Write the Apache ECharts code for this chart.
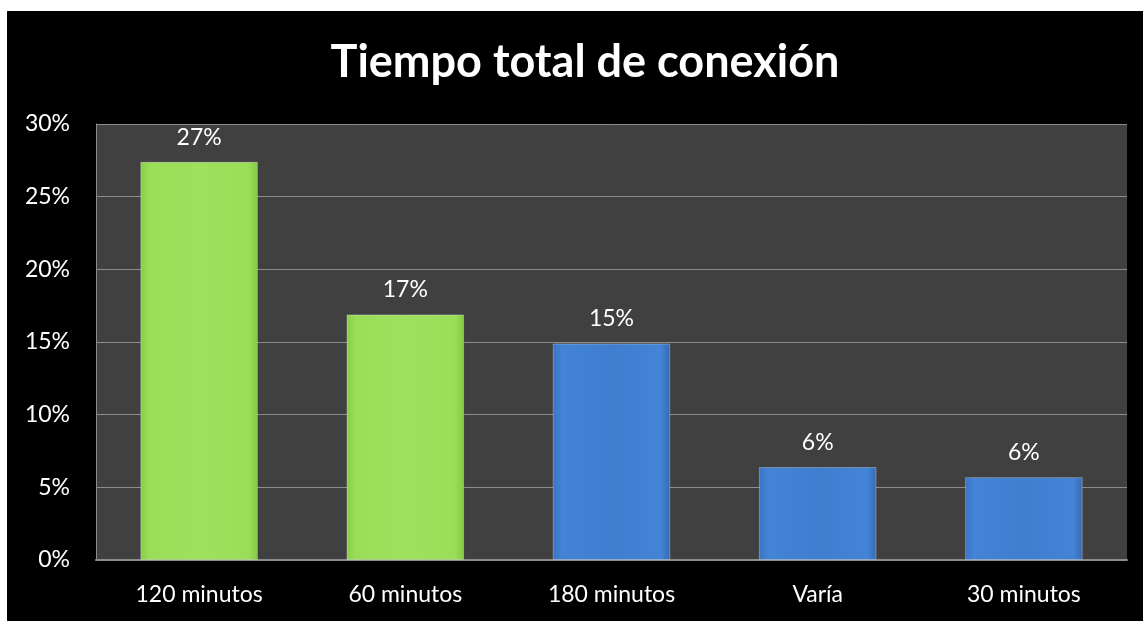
<!DOCTYPE html>
<html>
<head>
<meta charset="utf-8">
<title>Tiempo total de conexión</title>
<script src="https://cdn.jsdelivr.net/npm/echarts@6/dist/echarts.min.js"></script>
<style>
  html, body { margin: 0; padding: 0; background: #ffffff; }
  #chart { position: absolute; left: 7px; top: 11px; width: 1136px; height: 610px; }
</style>
</head>
<body>
<div id="chart"></div>
<script>
  const categories = ["120 minutos", "60 minutos", "180 minutos", "Varía", "30 minutos"];
  const shares = [27.4, 16.9, 14.9, 6.4, 5.7];
  const yTicks = [0, 5, 10, 15, 20, 25, 30];

  const font = "Lato, 'Open Sans', sans-serif";

  const green = new echarts.graphic.LinearGradient(0, 0, 1, 0, [
    { offset: 0, color: "#86cf45" },
    { offset: 0.08, color: "#9ade58" },
    { offset: 0.5, color: "#9fe05c" },
    { offset: 0.92, color: "#9ade58" },
    { offset: 1, color: "#82c942" }
  ]);
  const blue = new echarts.graphic.LinearGradient(0, 0, 1, 0, [
    { offset: 0, color: "#3a74c4" },
    { offset: 0.08, color: "#4384d6" },
    { offset: 0.5, color: "#3f7dcf" },
    { offset: 0.92, color: "#4384d6" },
    { offset: 1, color: "#3569b4" }
  ]);

  const chart = echarts.init(document.getElementById("chart"), null, { renderer: "canvas" });

  chart.setOption({
    backgroundColor: "#000000",
    animation: false,
    title: {
      text: "Tiempo total de conexión",
      left: 573,
      textAlign: "center",
      top: 24,
      textStyle: {
        color: "#ffffff",
        fontFamily: font,
        fontWeight: "bold",
        fontSize: 45
      }
    },
    grid: {
      left: 89,
      right: 16,
      top: 113,
      bottom: 61,
      show: true,
      backgroundColor: "#404040",
      borderWidth: 0
    },
    xAxis: {
      type: "category",
      data: categories,
      axisTick: { show: false },
      axisLine: { show: true, lineStyle: { color: "#8c8c8c", width: 2 } },
      axisLabel: {
        color: "#ffffff",
        fontFamily: font,
        fontSize: 23,
        margin: 23
      }
    },
    yAxis: {
      type: "value",
      min: yTicks[0],
      max: yTicks[yTicks.length - 1],
      interval: 5,
      axisLine: { show: true, lineStyle: { color: "#8c8c8c", width: 1 } },
      axisTick: { show: false },
      splitLine: { lineStyle: { color: "#8c8c8c", width: 1 } },
      axisLabel: {
        color: "#ffffff",
        fontFamily: font,
        fontSize: 23,
        margin: 26,
        formatter: (v) => v + "%"
      }
    },
    series: [
      {
        type: "bar",
        data: shares,
        barWidth: "57%",
        itemStyle: {
          color: (p) => (p.dataIndex < 2 ? green : blue),
          borderColor: "rgba(255,255,255,0.3)",
          borderWidth: 1
        },
        label: {
          show: true,
          position: "top",
          distance: 13,
          color: "#ffffff",
          fontFamily: font,
          fontSize: 23,
          formatter: (p) => Math.round(p.value) + "%"
        }
      }
    ]
  });
</script>
</body>
</html>
